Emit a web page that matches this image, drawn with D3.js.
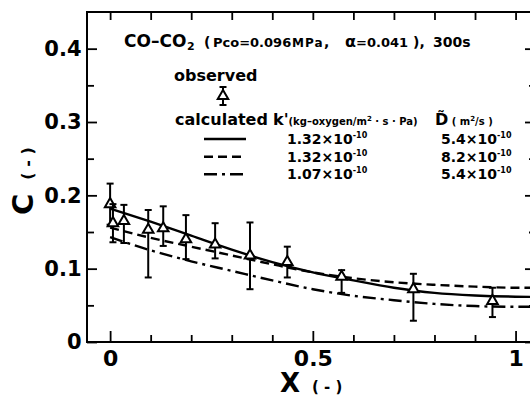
<!DOCTYPE html>
<html>
<head>
<meta charset="utf-8">
<script src="https://cdn.jsdelivr.net/npm/d3@7"></script>
<style>
  html, body { margin: 0; padding: 0; background: #fff; }
  svg { display: block; }
  text { font-family: "DejaVu Sans", sans-serif; font-weight: bold; fill: #000; }
</style>
</head>
<body>
<svg id="chart" width="530" height="399"></svg>
<script>
// Observed oxygen content C along dimensionless position X (triangles, with scatter bars)
const obsX  = [0, 0.007, 0.034, 0.094, 0.131, 0.187, 0.259, 0.345, 0.437, 0.571, 0.748, 0.943];
const obsC  = [0.188, 0.162, 0.165, 0.153, 0.155, 0.140, 0.133, 0.118, 0.109, 0.089, 0.072, 0.056];
const obsHi = [0.216, 0.188, 0.187, 0.180, 0.185, 0.173, 0.162, 0.163, 0.130, 0.098, 0.093, 0.074];
const obsLo = [0.160, 0.136, 0.135, 0.088, 0.131, 0.113, 0.114, 0.072, 0.088, 0.067, 0.029, 0.034];

// Calculated profiles
const calcX      = [0, 0.1, 0.2, 0.3, 0.4, 0.5, 0.6, 0.7, 0.8, 0.9, 1.0, 1.05];
const calcSolid  = [0.182, 0.164, 0.145, 0.126, 0.109, 0.095, 0.084, 0.074, 0.067, 0.0635, 0.0618, 0.0615];
const calcDashed = [0.156, 0.142, 0.130, 0.118, 0.106, 0.095, 0.087, 0.0815, 0.078, 0.0755, 0.074, 0.074];
const calcDashDot= [0.143, 0.125, 0.110, 0.097, 0.084, 0.072, 0.063, 0.057, 0.052, 0.049, 0.048, 0.048];

// Legend table
const legendK = ["1.32", "1.32", "1.07"];
const legendD = ["5.4", "8.2", "5.4"];

// Axis ticks
const xMajor = [0, 0.5, 1];
const xMinor = [0.1, 0.2, 0.3, 0.4, 0.6, 0.7, 0.8, 0.9];
const yMajor = [0, 0.1, 0.2, 0.3, 0.4];
const yMinor = [0.05, 0.15, 0.25, 0.35];

const svg = d3.select("#chart");
const plotL = 87, plotR = 533, plotT = 12, plotB = 342;

const x = d3.scaleLinear().domain([-0.057, 1.043]).range([plotL, plotR]);
const y = d3.scaleLinear().domain([0, 0.45]).range([plotB, plotT]);

const fmt = d => d === 0 ? "0" : (d === 1 ? "1" : String(d));

// Axes: ticks point into the plot
function tickGroup(axis, tx, ty) {
  const g = svg.append("g").attr("transform", `translate(${tx},${ty})`).call(axis);
  g.select(".domain").remove();
  g.selectAll(".tick line").attr("stroke", "#000").attr("stroke-width", 1.8);
  g.selectAll(".tick text").attr("font-family", "DejaVu Sans").attr("font-weight", "bold").attr("fill", "#000");
  return g;
}
tickGroup(d3.axisBottom(x).tickValues(xMajor).tickSize(-11).tickPadding(8).tickFormat(fmt), 0, plotB)
  .selectAll(".tick text").attr("font-size", 22);
tickGroup(d3.axisBottom(x).tickValues(xMinor).tickSize(-7).tickFormat(""), 0, plotB);
tickGroup(d3.axisTop(x).tickValues(xMajor.concat(xMinor)).tickSize(-8).tickFormat(""), 0, plotT);
tickGroup(d3.axisLeft(y).tickValues(yMajor).tickSize(-10).tickPadding(5.5).tickFormat(fmt), plotL, 0)
  .selectAll(".tick text").attr("font-size", 21);
tickGroup(d3.axisLeft(y).tickValues(yMinor).tickSize(-7).tickFormat(""), plotL, 0);
tickGroup(d3.axisRight(y).tickValues(yMajor).tickSize(-8).tickFormat(""), plotR, 0);
tickGroup(d3.axisRight(y).tickValues(yMinor).tickSize(-4).tickFormat(""), plotR, 0);

// Frame
svg.append("rect").attr("x", plotL).attr("y", plotT)
  .attr("width", plotR - plotL).attr("height", plotB - plotT)
  .attr("fill", "none").attr("stroke", "#000").attr("stroke-width", 2);

// Axis titles
const xt = svg.append("text").attr("x", 280).attr("y", 392);
xt.append("tspan").attr("font-size", 26).text("X");
xt.append("tspan").attr("font-size", 15).attr("dx", 12).text("( - )");
const yt = svg.append("text").attr("transform", "translate(33,215) rotate(-90)");
yt.append("tspan").attr("font-size", 29).text("C");
yt.append("tspan").attr("font-size", 16).attr("dx", 14).text("( - )");

// Calculated curves
svg.append("clipPath").attr("id", "plotClip").append("rect")
  .attr("x", plotL).attr("y", plotT).attr("width", plotR - plotL).attr("height", plotB - plotT);
const line = d3.line().x(d => x(d[0])).y(d => y(d[1])).curve(d3.curveMonotoneX);
const curves = [
  { vals: calcSolid,   dash: null },
  { vals: calcDashed,  dash: "9,5" },
  { vals: calcDashDot, dash: "13,5,3,5" }
];
curves.forEach(c => {
  svg.append("path")
    .attr("clip-path", "url(#plotClip)")
    .attr("d", line(calcX.map((v, i) => [v, c.vals[i]])))
    .attr("fill", "none").attr("stroke", "#000").attr("stroke-width", 2.4)
    .attr("stroke-dasharray", c.dash);
});

// Observed points with scatter bars
const tri = d3.symbol().type(d3.symbolTriangle).size(48);
function obsMarker(cx, cy, hi, lo) {
  const g = svg.append("g");
  g.append("line").attr("x1", cx).attr("x2", cx).attr("y1", hi).attr("y2", lo)
    .attr("stroke", "#000").attr("stroke-width", 2);
  [hi, lo].forEach(v => g.append("line").attr("x1", cx - 3.5).attr("x2", cx + 3.5)
    .attr("y1", v).attr("y2", v).attr("stroke", "#000").attr("stroke-width", 2));
  g.append("path").attr("d", tri()).attr("transform", `translate(${cx},${cy})`)
    .attr("fill", "#fff").attr("stroke", "#000").attr("stroke-width", 2);
}
obsX.forEach((v, i) => obsMarker(x(v), y(obsC[i]), y(obsHi[i]), y(obsLo[i])));

// Title, set piece by piece
const titleBase = 47;
function piece(px, str, size, opts = {}) {
  const t = svg.append("text").attr("x", px).attr("y", titleBase + (opts.dy || 0))
    .attr("font-size", size).text(str);
  if (opts.normal) t.attr("font-weight", "normal");
  if (opts.spacing) t.attr("letter-spacing", opts.spacing);
  return t;
}
piece(124, "CO–CO", 17);
piece(187, "2", 11, { dy: 3 });
piece(204, "(", 14);
piece(213, "Pco=0.096", 13);
piece(292, "MPa", 12, { spacing: 1 });
piece(324, ",", 14);
piece(345, "α", 16, { normal: true });
piece(356, "=0.041", 13);
piece(413, "),", 14);
piece(433, "300s", 14);

// Legend
svg.append("text").attr("x", 174).attr("y", 81).attr("font-size", 16).text("observed");
obsMarker(223, 96, 87, 105);
svg.append("text").attr("x", 175).attr("y", 125).attr("font-size", 16).text("calculated");
const kh = svg.append("text").attr("x", 273).attr("y", 125);
kh.append("tspan").attr("font-size", 16).text("k'");
kh.append("tspan").attr("font-size", 10).text("(kg–oxygen/m");
kh.append("tspan").attr("font-size", 7).attr("dy", -4).text("2");
kh.append("tspan").attr("font-size", 10).attr("dy", 4).text(" · s · Pa)");
const dh = svg.append("text").attr("x", 435).attr("y", 125);
dh.append("tspan").attr("font-size", 16).text("D\u0303");
dh.append("tspan").attr("font-size", 10).text(" ( m");
dh.append("tspan").attr("font-size", 7).attr("dy", -4).text("2");
dh.append("tspan").attr("font-size", 10).attr("dy", 4).text("/s )");

const rowBase = [144, 161.7, 179.3];
curves.forEach((c, i) => {
  svg.append("line").attr("x1", 204).attr("x2", 246)
    .attr("y1", rowBase[i] - 5).attr("y2", rowBase[i] - 5)
    .attr("stroke", "#000").attr("stroke-width", 2.4).attr("stroke-dasharray", c.dash);
  [[287, legendK[i]], [441, legendD[i]]].forEach(([tx, mant]) => {
    const t = svg.append("text").attr("x", tx).attr("y", rowBase[i]);
    t.append("tspan").attr("font-size", 14).text(mant + "×10");
    t.append("tspan").attr("font-size", 8).attr("dy", -6).text("-10");
  });
});
</script>
</body>
</html>
